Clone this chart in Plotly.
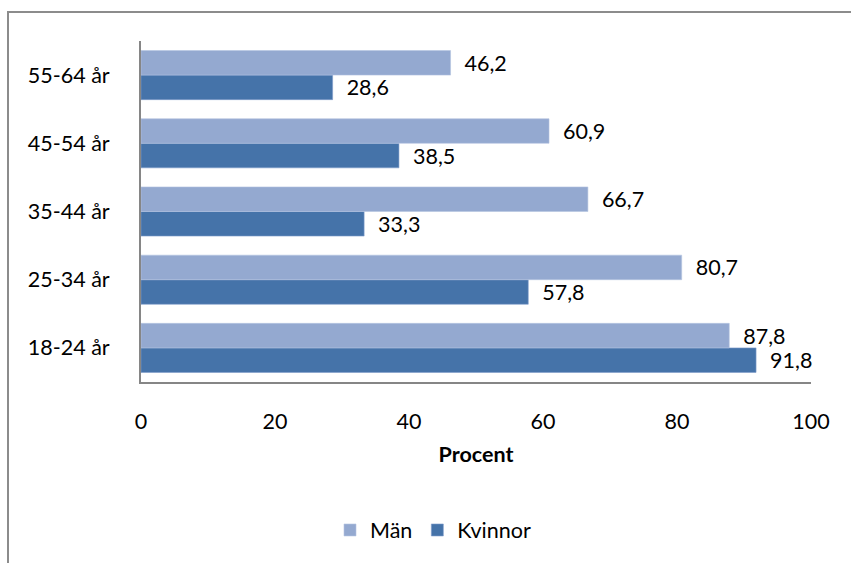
import plotly.graph_objects as go

categories = ["18-24 år", "25-34 år", "35-44 år", "45-54 år", "55-64 år"]
man = [87.8, 80.7, 66.7, 60.9, 46.2]
kvinnor = [91.8, 57.8, 33.3, 38.5, 28.6]
x_ticks = [0, 20, 40, 60, 80, 100]

FONT = "Lato"
FS = 21.5
c_man = "#94A9D0"
c_kv = "#4573A9"

fig = go.Figure()
fig.add_trace(go.Bar(
    y=categories, x=kvinnor, name="Kvinnor", orientation="h",
    marker=dict(color=c_kv, line=dict(color="#7f9ccb", width=0.6)),
    text=kvinnor, texttemplate="  %{x:.1f}", textposition="outside",
    textfont=dict(family=FONT, size=FS, color="#000"), cliponaxis=False,
    constraintext="none",
))
fig.add_trace(go.Bar(
    y=categories, x=man, name="Män", orientation="h",
    marker=dict(color=c_man, line=dict(color="#b5c4e0", width=0.6)),
    text=man, texttemplate="  %{x:.1f}", textposition="outside",
    textfont=dict(family=FONT, size=FS, color="#000"), cliponaxis=False,
    constraintext="none",
))

W, H = 851, 563
L, R, T, B = 141, 40, 41, 181
pw = W - L - R
ph = H - T - B

fig.update_layout(
    width=W, height=H,
    margin=dict(l=L, r=R, t=T, b=B, pad=0),
    barmode="group", bargap=0.28, bargroupgap=0,
    separators=", ",
    plot_bgcolor="white", paper_bgcolor="white",
    font=dict(family=FONT, size=FS, color="#000"),
    xaxis=dict(
        range=[0, 100], tickvals=x_ticks, showgrid=False, zeroline=False,
        showline=True, linecolor="#868686", linewidth=2,
        ticks="", ticklabelstandoff=19,
        tickfont=dict(family=FONT, size=FS),
        title=dict(text="<b>Procent</b>", font=dict(family=FONT, size=FS), standoff=14),
    ),
    yaxis=dict(
        categoryorder="array", categoryarray=categories,
        showgrid=False, zeroline=False, showline=True,
        linecolor="#868686", linewidth=2, ticks="", ticklabelstandoff=25,
        tickfont=dict(family=FONT, size=FS),
    ),
    legend=dict(
        orientation="h", traceorder="reversed",
        x=433 / W, xref="container", xanchor="center",
        y=(H - 530) / H, yref="container", yanchor="middle",
        font=dict(family=FONT, size=FS),
    ),
    showlegend=True,
    shapes=[dict(
        type="rect", xref="paper", yref="paper",
        x0=(8 - L) / pw, x1=1.3, y0=-1.0, y1=(H - B - 12) / ph,
        line=dict(color="#8c8c8c", width=2), fillcolor="rgba(0,0,0,0)",
        layer="below",
    )],
)

fig.write_html("out.html")
